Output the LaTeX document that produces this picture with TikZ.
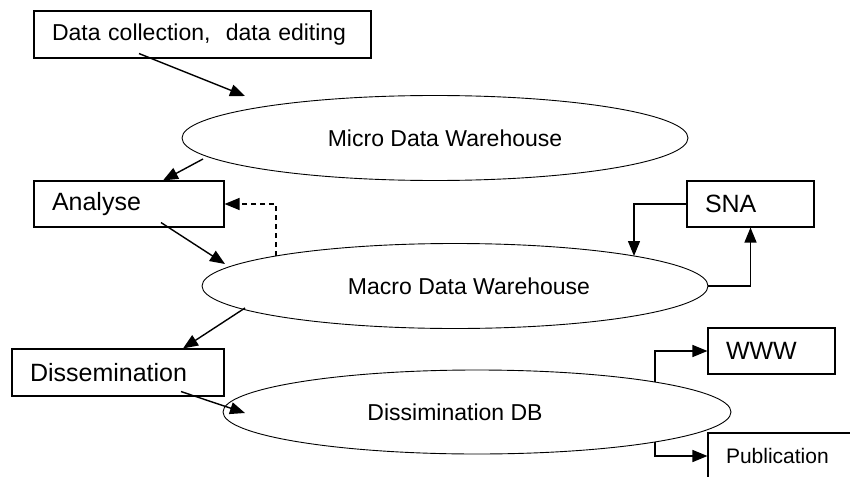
\documentclass[tikz,border=0pt]{standalone}
\usepackage{fontspec}
\setmainfont{Liberation Sans}
\usetikzlibrary{positioning, shapes.geometric, arrows.meta, calc}

\begin{document}
\begin{tikzpicture}[x=1pt, y=-1pt,
  box/.style={draw, line width=1.1pt, inner xsep=18pt, inner ysep=0pt, align=left, minimum height=46pt, font=\fontsize{25}{30}\selectfont},
  store/.style={draw, ellipse, line width=0.9pt, inner sep=0pt, minimum width=506pt, minimum height=85pt, font=\fontsize{23}{28}\selectfont},
  arr/.style={-{Triangle[length=15pt,width=12pt]}, line width=1.4pt}
]
  \useasboundingbox (0,0) rectangle (850,476);
  % boxes
  \node[box, text width=301pt, minimum height=47pt, font=\fontsize{23}{28}\selectfont] (dc) at (202.5,34.5) {Data collection,\ \ data editing};
  \node[box, text width=154pt] (ana) at (129,204) {Analyse};
  \node[box, text width=91pt] (sna) at (750.5,204) {SNA};
  \node[box, text width=176pt, minimum height=47pt] (diss) at (118,372.5) {Dissemination};
  \node[box, text width=91pt] (www) at (771.5,351) {WWW};
  \node[box, text width=114pt, font=\fontsize{21}{25}\selectfont] (pub) at (783,456) {Publication};
  % warehouses (text sits a little off centre, as drawn)
  \node[store] (micro) at (435,138) {\hspace*{20pt}Micro Data Warehouse};
  \node[store] (macro) at (455,286) {\hspace*{28pt}Macro Data Warehouse};
  \node[store, minimum width=508pt, minimum height=84pt] (db) at (477,412) {Dissimination DB\hspace*{44pt}};
  % flow
  \draw[arr] ($(dc.south)+(-63.5,-5)$) -- ($(micro.center)+(-190,-42)$);
  \draw[arr] ($(micro.center)+(-232,21)$) -- ($(ana.north)+(34,0)$);
  \draw[arr] ($(ana.south)+(32,-5)$) -- ($(macro.center)+(-230,-22)$);
  \draw[arr, dash pattern=on 5pt off 4pt] ($(macro.center)+(-179,-30)$) |- (ana.east);
  \draw[arr] (sna.west) -| ($(macro.center)+(179,-30)$);
  \draw[arr] (macro.east) -| (sna.south);
  \draw[arr] ($(macro.center)+(-210,22)$) -- ($(diss.north)+(65,0)$);
  \draw[arr] ($(diss.south)+(63,-5)$) -- ($(db.center)+(-232,1)$);
  \draw[arr] ($(db.center)+(178,-30)$) |- (www.west);
  \draw[arr] ($(db.center)+(178,30)$) |- (pub.west);
\end{tikzpicture}
\end{document}
